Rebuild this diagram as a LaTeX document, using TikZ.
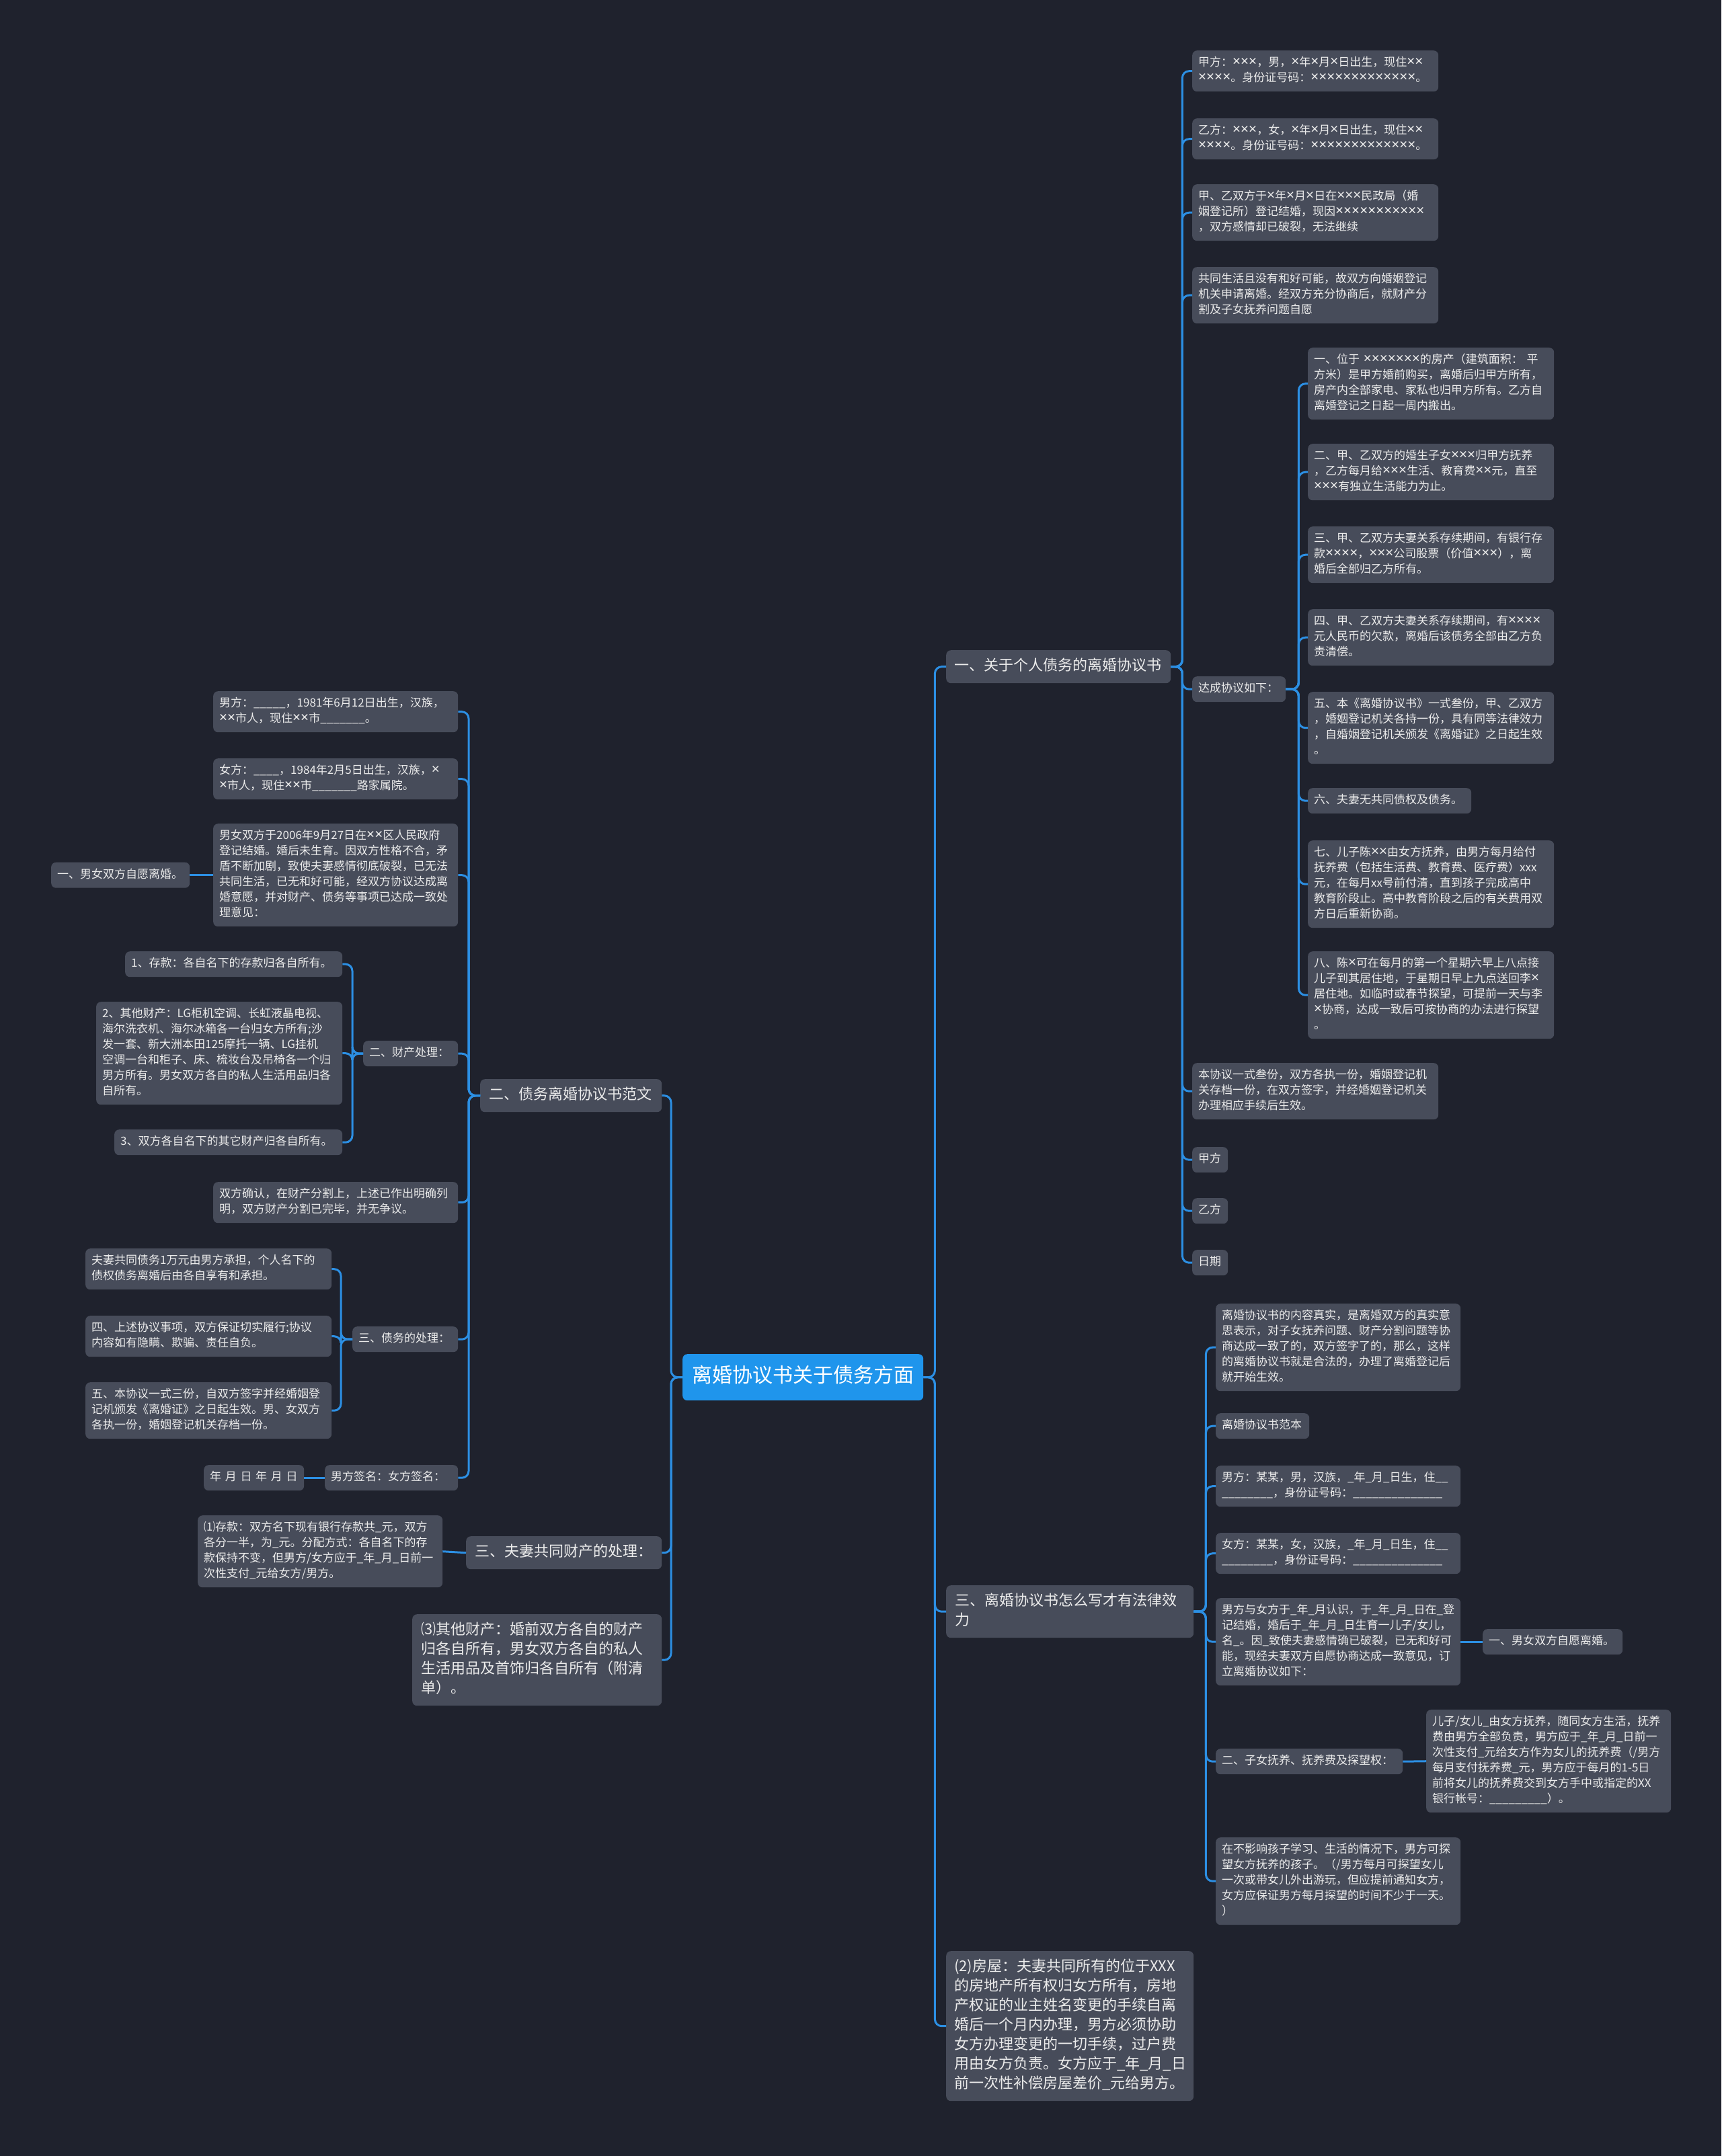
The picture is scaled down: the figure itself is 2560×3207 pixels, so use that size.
\documentclass[tikz,border=0pt]{standalone}
\usepackage{fontspec}
\setmainfont{Noto Sans CJK SC}
\newfontfamily\latf{Noto Sans}
\newcommand\X{{\latf\fontsize{21}{23}\selectfont ×}}
\definecolor{bgc}{HTML}{1F222D}
\definecolor{boxc}{HTML}{474C5A}
\definecolor{linec}{HTML}{2C8FE3}
\definecolor{txtc}{HTML}{EBEBEB}
\definecolor{rootc}{HTML}{1F95EC}
\begin{document}
\begin{tikzpicture}[x=1pt,y=-1pt,
  base/.style={draw=none, fill=boxc, rounded corners=7pt, text=txtc, align=left, anchor=north west,
    execute at begin node=\strut, execute at end node=\strut},
  sm/.style={base, font=\fontsize{17}{23}\selectfont, inner xsep=9pt, inner ysep=7.5pt, text width=#1},
  big/.style={base, font=\fontsize{22}{29}\selectfont, inner xsep=13pt, inner ysep=10pt, text width=#1},
  rootbox/.style={base, fill=rootc, text=white, font=\fontsize{30}{39}\selectfont, inner xsep=14pt, inner ysep=15pt, text width=330pt},
  conn/.style={draw=linec, line width=3pt, rounded corners=10pt}
]
\useasboundingbox (0,0) rectangle (2560,3207);
\fill[bgc] (0,0) rectangle (2560,3207);

% root
\node[rootbox] (c) at (1015,2014) {离婚协议书关于债务方面};

% ===== right side =====
\node[big=310pt, inner xsep=12pt] (m1) at (1407,967) {一、关于个人债务的离婚协议书};
\node[big=342pt] (m2) at (1407,2358) {三、离婚协议书怎么写才有法律效\\力};
\node[big=344pt, inner xsep=12pt] (m3) at (1407,2902) {(2)房屋：夫妻共同所有的位于XXX\\的房地产所有权归女方所有，房地\\产权证的业主姓名变更的手续自离\\婚后一个月内办理，男方必须协助\\女方办理变更的一切手续，过户费\\用由女方负责。女方应于\_年\_月\_日\\前一次性补偿房屋差价\_元给男方。};

% children of m1
\node[sm=348pt] (r1) at (1773,75) {甲方：\X{}\X{}\X{}，男，\X{}年\X{}月\X{}日出生，现住\X{}\X{}\\\X{}\X{}\X{}\X{}。身份证号码：\X{}\X{}\X{}\X{}\X{}\X{}\X{}\X{}\X{}\X{}\X{}\X{}\X{}。};
\node[sm=348pt] (r2) at (1773,176) {乙方：\X{}\X{}\X{}，女，\X{}年\X{}月\X{}日出生，现住\X{}\X{}\\\X{}\X{}\X{}\X{}。身份证号码：\X{}\X{}\X{}\X{}\X{}\X{}\X{}\X{}\X{}\X{}\X{}\X{}\X{}。};
\node[sm=348pt] (r3) at (1773,274) {甲、乙双方于\X{}年\X{}月\X{}日在\X{}\X{}\X{}民政局（婚\\姻登记所）登记结婚，现因\X{}\X{}\X{}\X{}\X{}\X{}\X{}\X{}\X{}\X{}\X{}\\，双方感情却已破裂，无法继续};
\node[sm=348pt] (r4) at (1773,397) {共同生活且没有和好可能，故双方向婚姻登记\\机关申请离婚。经双方充分协商后，就财产分\\割及子女抚养问题自愿};
\node[sm=121pt] (r5) at (1773,1006) {达成协议如下：};
\node[sm=348pt] (r6) at (1773,1581) {本协议一式叁份，双方各执一份，婚姻登记机\\关存档一份，在双方签字，并经婚姻登记机关\\办理相应手续后生效。};
\node[sm=35pt] (r7) at (1773,1706) {甲方};
\node[sm=35pt] (r8) at (1773,1782) {乙方};
\node[sm=35pt] (r9) at (1773,1859) {日期};

% children of r5
\node[sm=348pt] (s1) at (1945,517) {一、位于~\X{}\X{}\X{}\X{}\X{}\X{}\X{}的房产（建筑面积：~平\\方米）是甲方婚前购买，离婚后归甲方所有，\\房产内全部家电、家私也归甲方所有。乙方自\\离婚登记之日起一周内搬出。};
\node[sm=348pt] (s2) at (1945,660) {二、甲、乙双方的婚生子女\X{}\X{}\X{}归甲方抚养\\，乙方每月给\X{}\X{}\X{}生活、教育费\X{}\X{}元，直至\\\X{}\X{}\X{}有独立生活能力为止。};
\node[sm=348pt] (s3) at (1945,783) {三、甲、乙双方夫妻关系存续期间，有银行存\\款\X{}\X{}\X{}\X{}，\X{}\X{}\X{}公司股票（价值\X{}\X{}\X{}），离\\婚后全部归乙方所有。};
\node[sm=348pt] (s4) at (1945,906) {四、甲、乙双方夫妻关系存续期间，有\X{}\X{}\X{}\X{}\\元人民币的欠款，离婚后该债务全部由乙方负\\责清偿。};
\node[sm=348pt] (s5) at (1945,1029) {五、本《离婚协议书》一式叁份，甲、乙双方\\，婚姻登记机关各持一份，具有同等法律效力\\，自婚姻登记机关颁发《离婚证》之日起生效\\。};
\node[sm=225pt] (s6) at (1945,1172) {六、夫妻无共同债权及债务。};
\node[sm=348pt] (s7) at (1945,1250) {七、儿子陈\X{}\X{}由女方抚养，由男方每月给付\\抚养费（包括生活费、教育费、医疗费）xxx\\元，在每月xx号前付清，直到孩子完成高中\\教育阶段止。高中教育阶段之后的有关费用双\\方日后重新协商。};
\node[sm=348pt] (s8) at (1945,1415) {八、陈\X{}可在每月的第一个星期六早上八点接\\儿子到其居住地，于星期日早上九点送回李\X{}\\居住地。如临时或春节探望，可提前一天与李\\\X{}协商，达成一致后可按协商的办法进行探望\\。};

% children of m2
\node[sm=346pt] (t1) at (1808,1939) {离婚协议书的内容真实，是离婚双方的真实意\\思表示，对子女抚养问题、财产分割问题等协\\商达成一致了的，双方签字了的，那么，这样\\的离婚协议书就是合法的，办理了离婚登记后\\就开始生效。};
\node[sm=121pt] (t2) at (1808,2102) {离婚协议书范本};
\node[sm=346pt] (t3) at (1808,2180) {男方：某某，男，汉族，\_年\_月\_日生，住\_\_\\\_\_\_\_\_\_\_\_，身份证号码：\_\_\_\_\_\_\_\_\_\_\_\_\_\_};
\node[sm=346pt] (t4) at (1808,2280) {女方：某某，女，汉族，\_年\_月\_日生，住\_\_\\\_\_\_\_\_\_\_\_，身份证号码：\_\_\_\_\_\_\_\_\_\_\_\_\_\_};
\node[sm=346pt] (t5) at (1808,2377) {男方与女方于\_年\_月认识，于\_年\_月\_日在\_登\\记结婚，婚后于\_年\_月\_日生育一儿子/女儿，\\名\_。因\_致使夫妻感情确已破裂，已无和好可\\能，现经夫妻双方自愿协商达成一致意见，订\\立离婚协议如下：};
\node[sm=190pt] (t5a) at (2205,2423) {一、男女双方自愿离婚。};
\node[sm=260pt] (t6) at (1808,2601) {二、子女抚养、抚养费及探望权：};
\node[sm=346pt] (t6a) at (2121,2543) {儿子/女儿\_由女方抚养，随同女方生活，抚养\\费由男方全部负责，男方应于\_年\_月\_日前一\\次性支付\_元给女方作为女儿的抚养费（/男方\\每月支付抚养费\_元，男方应于每月的1-5日\\前将女儿的抚养费交到女方手中或指定的XX\\银行帐号：\_\_\_\_\_\_\_\_\_）。};
\node[sm=346pt] (t7) at (1808,2733) {在不影响孩子学习、生活的情况下，男方可探\\望女方抚养的孩子。（/男方每月可探望女儿\\一次或带女儿外出游玩，但应提前通知女方，\\女方应保证男方每月探望的时间不少于一天。\\）};

% ===== left side =====
\node[big=244pt] (l1) at (714,1605) {二、债务离婚协议书范文};
\node[big=265pt] (l2) at (693,2285) {三、夫妻共同财产的处理：};
\node[big=345pt] (l3) at (613,2401) {⑶其他财产：婚前双方各自的财产\\归各自所有，男女双方各自的私人\\生活用品及首饰归各自所有（附清\\单）。};

\node[sm=346pt] (la) at (317,1028) {男方：\_\_\_\_\_，1981年6月12日出生，汉族，\\\X{}\X{}市人，现住\X{}\X{}市\_\_\_\_\_\_\_。};
\node[sm=346pt] (lb) at (317,1128) {女方：\_\_\_\_，1984年2月5日出生，汉族，\X{}\\\X{}市人，现住\X{}\X{}市\_\_\_\_\_\_\_路家属院。};
\node[sm=346pt] (lc) at (317,1225) {男女双方于2006年9月27日在\X{}\X{}区人民政府\\登记结婚。婚后未生育。因双方性格不合，矛\\盾不断加剧，致使夫妻感情彻底破裂，已无法\\共同生活，已无和好可能，经双方协议达成离\\婚意愿，并对财产、债务等事项已达成一致处\\理意见：};
\node[sm=188pt] (lca) at (76,1282.5) {一、男女双方自愿离婚。};
\node[sm=123pt] (ld) at (540,1548) {二、财产处理：};
\node[sm=305pt] (ld1) at (186,1415) {1、存款：各自名下的存款归各自所有。};
\node[sm=348pt] (ld2) at (143,1490) {2、其他财产：LG柜机空调、长虹液晶电视、\\海尔洗衣机、海尔冰箱各一台归女方所有;沙\\发一套、新大洲本田125摩托一辆、LG挂机\\空调一台和柜子、床、梳妆台及吊椅各一个归\\男方所有。男女双方各自的私人生活用品归各\\自所有。};
\node[sm=321pt] (ld3) at (170,1680) {3、双方各自名下的其它财产归各自所有。};
\node[sm=346pt] (le) at (317,1758) {双方确认，在财产分割上，上述已作出明确列\\明，双方财产分割已完毕，并无争议。};
\node[sm=139pt] (lf) at (524,1973) {三、债务的处理：};
\node[sm=348pt] (lf1) at (127,1857) {夫妻共同债务1万元由男方承担，个人名下的\\债权债务离婚后由各自享有和承担。};
\node[sm=348pt] (lf2) at (127,1957) {四、上述协议事项，双方保证切实履行;协议\\内容如有隐瞒、欺骗、责任自负。};
\node[sm=348pt] (lf3) at (127,2056) {五、本协议一式三份，自双方签字并经婚姻登\\记机颁发《离婚证》之日起生效。男、女双方\\各执一份，婚姻登记机关存档一份。};
\node[sm=180pt] (lg) at (483,2179) {男方签名：女方签名：};
\node[sm=131pt] (lga) at (303,2179) {年~月~日~年~月~日};
\node[sm=346pt] (l2a) at (294,2254) {⑴存款：双方名下现有银行存款共\_元，双方\\各分一半，为\_元。分配方式：各自名下的存\\款保持不变，但男方/女方应于\_年\_月\_日前一\\次性支付\_元给女方/男方。};

% ===== connectors =====
\foreach \ch in {m1,m2,m3} \draw[conn] (c.east) -- ++(17,0) |- (\ch.west);
\foreach \ch in {r1,r2,r3,r4,r5,r6,r7,r8,r9} \draw[conn] (m1.east) -- ++(17,0) |- (\ch.west);
\foreach \ch in {s1,s2,s3,s4,s5,s6,s7,s8} \draw[conn] (r5.east) -- ++(19,0) |- (\ch.west);
\foreach \ch in {t1,t2,t3,t4,t5,t6,t7} \draw[conn] (m2.east) -- ++(18,0) |- (\ch.west);
\draw[conn] (t5.east) -- (t5a.west);
\draw[conn] (t6.east) -- (t6a.west);

\foreach \ch in {l1,l2,l3} \draw[conn] (c.west) -- ++(-17,0) |- (\ch.east);
\foreach \ch in {la,lb,lc,ld,le,lf,lg} \draw[conn] (l1.west) -- ++(-17,0) |- (\ch.east);
\draw[conn] (lc.west) -- (lca.east);
\foreach \ch in {ld1,ld2,ld3} \draw[conn] (ld.west) -- ++(-16,0) |- (\ch.east);
\foreach \ch in {lf1,lf2,lf3} \draw[conn] (lf.west) -- ++(-17,0) |- (\ch.east);
\draw[conn] (lg.west) -- (lga.east);
\draw[conn] (l2.west) -- (l2a.east);
\end{tikzpicture}
\end{document}
